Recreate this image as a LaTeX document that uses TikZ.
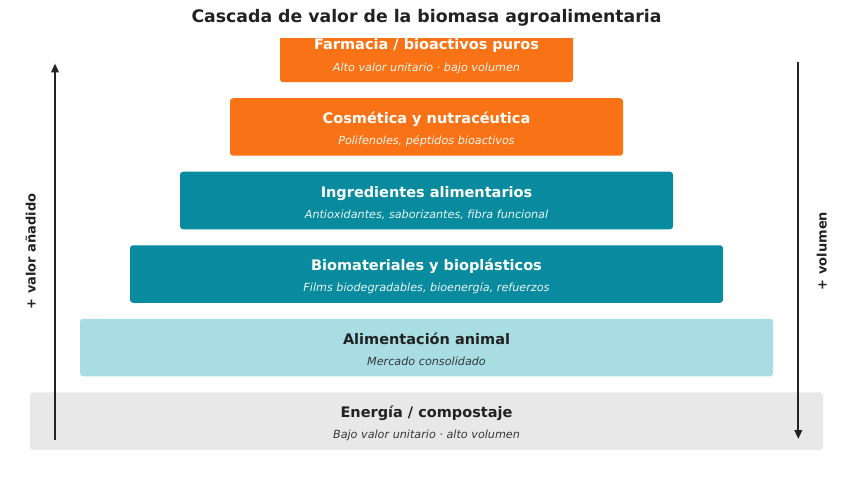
\documentclass[tikz,border=0pt]{standalone}
\usepackage{fontspec}
\setmainfont{DejaVu Sans}
\usetikzlibrary{arrows.meta}
\definecolor{orng}{HTML}{F97316}
\definecolor{tealc}{HTML}{088B9E}
\definecolor{lcyan}{HTML}{A8DDE3}
\definecolor{lgray}{HTML}{E8E8E8}
\definecolor{ink}{HTML}{222222}
\begin{document}
\begin{tikzpicture}[x=1pt,y=-1pt,
  tier/.style={rounded corners=3pt, minimum height=57.5pt, inner sep=0pt, draw=none},
  ttl/.style={anchor=base, inner sep=0pt, font=\fontsize{14.5}{17}\selectfont\bfseries},
  sub/.style={anchor=base, inner sep=0pt, font=\fontsize{11.2}{13}\selectfont\itshape},
  side/.style={anchor=base, inner sep=0pt, rotate=90, text=ink, font=\fontsize{13}{15}\selectfont\bfseries},
  axis/.style={draw=ink, line width=2pt, -{Triangle[length=9pt,width=7.5pt]}}
]
\useasboundingbox (0,0) rectangle (853,489);
\fill[white] (0,0) rectangle (853,489);

\node[anchor=base, inner sep=0pt, text=ink, font=\fontsize{17.3}{20}\selectfont\bfseries] (title) at (426.5,22.7) {Cascada de valor de la biomasa agroalimentaria};

\begin{scope}
\clip (0,38.3) rectangle (853,489);
\node[tier, fill=orng, minimum width=293pt] (b1) at (426.5,53.5) {};
\end{scope}
\node[ttl, text=white] (t1) at (426.5,50) {Farmacia / bioactivos puros};
\node[sub, text=white!92!orng] (s1) at (426.5,71.3) {Alto valor unitario · bajo volumen};

\node[tier, fill=orng, minimum width=393pt] (b2) at (426.5,127) {};
\node[ttl, text=white] (t2) at (426.5,123.5) {Cosmética y nutracéutica};
\node[sub, text=white!92!orng] (s2) at (426.5,144.8) {Polifenoles, péptidos bioactivos};

\node[tier, fill=tealc, minimum width=493pt] (b3) at (426.5,200.5) {};
\node[ttl, text=white] (t3) at (426.5,197) {Ingredientes alimentarios};
\node[sub, text=white!92!tealc] (s3) at (426.5,218.3) {Antioxidantes, saborizantes, fibra funcional};

\node[tier, fill=tealc, minimum width=593pt] (b4) at (426.5,274) {};
\node[ttl, text=white] (t4) at (426.5,270.5) {Biomateriales y bioplásticos};
\node[sub, text=white!92!tealc] (s4) at (426.5,291.8) {Films biodegradables, bioenergía, refuerzos};

\node[tier, fill=lcyan, minimum width=693pt] (b5) at (426.5,347.5) {};
\node[ttl, text=ink] (t5) at (426.5,344) {Alimentación animal};
\node[sub, text=ink!90!white] (s5) at (426.5,365.3) {Mercado consolidado};

\node[tier, fill=lgray, minimum width=793pt] (b6) at (426.5,421) {};
\node[ttl, text=ink] (t6) at (426.5,417.5) {Energía / compostaje};
\node[sub, text=ink!90!white] (s6) at (426.5,438.8) {Bajo valor unitario · alto volumen};

\coordinate (la) at (55,440);
\coordinate (lb) at (55,63.5);
\coordinate (ra) at (798.3,62.5);
\coordinate (rb) at (798.3,439);
\draw[axis] (la) -- (lb);
\draw[axis] (ra) -- (rb);

\node[side] (lv) at (35.5,251.5) {+ valor añadido};
\node[side] (rv) at (826.5,251) {+ volumen};
\end{tikzpicture}
\end{document}
